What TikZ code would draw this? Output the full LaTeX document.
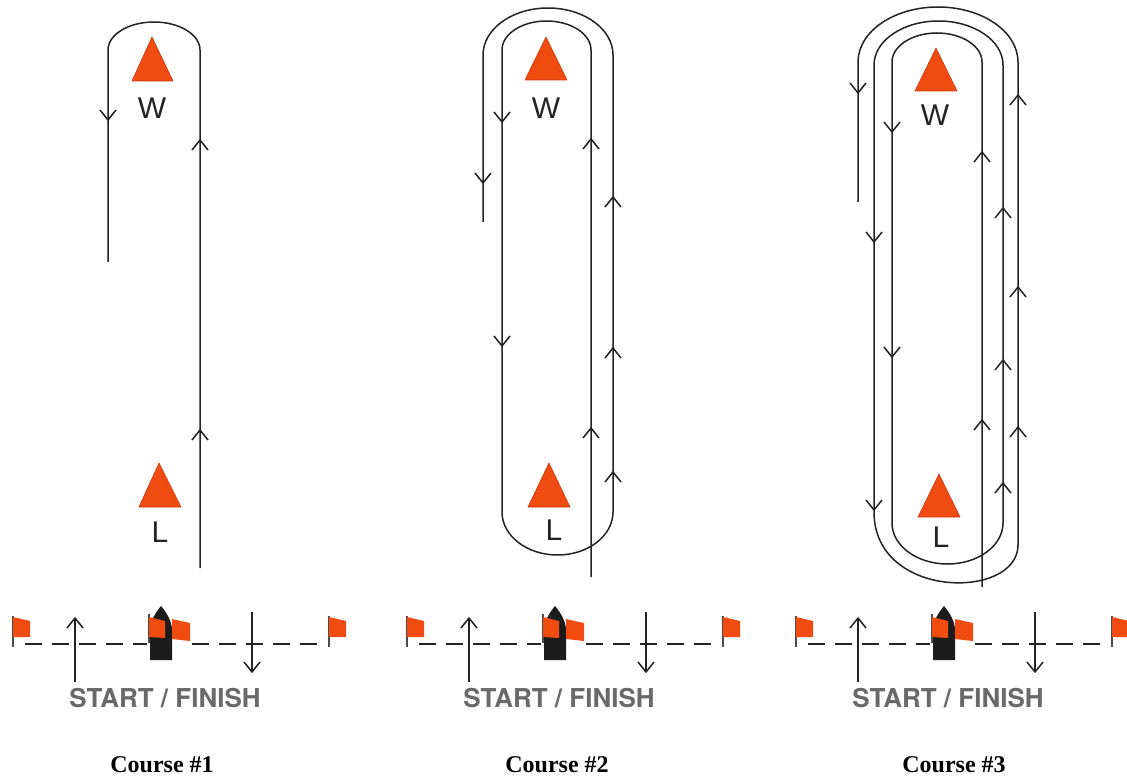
\documentclass[tikz,border=0pt]{standalone}
\usepackage{fontspec}
\setmainfont{Liberation Serif}
\newfontfamily\labfont{Liberation Sans}
\newfontfamily\sfheros{TeX Gyre Heros}
\definecolor{mk}{RGB}{240,76,18}
\definecolor{mkd}{RGB}{200,55,15}
\definecolor{ink}{RGB}{35,35,35}
\definecolor{sfgray}{RGB}{105,105,105}
\definecolor{hull}{RGB}{28,28,28}
\tikzset{
  ln/.style={line width=1.5pt, draw=ink, line join=round},
  buoy/.style={fill=mk, draw=mkd, line width=0.6pt, line join=round},
  flag/.style={fill=mk},
  pole/.style={line width=1.7pt, draw=black!70},
  dashline/.style={line width=1.4pt, draw=ink, dash pattern=on 17pt off 10pt},
  boat/.style={fill=hull},
  buoylabel/.style={font=\labfont\fontsize{30}{36}\selectfont, text=ink, inner sep=0pt},
  sflabel/.style={font=\sfheros\bfseries\fontsize{26}{30}\selectfont, text=sfgray, inner sep=0pt},
  coursetitle/.style={font=\bfseries\fontsize{24}{28}\selectfont, inner sep=0pt, anchor=base}
}
\newcommand\upar[2]{\draw[ln] (#1,#2) ++(-8,10) -- ++(8,-10) -- ++(8,10);}
\newcommand\dnar[2]{\draw[ln] (#1,#2) ++(-8,-10) -- ++(8,10) -- ++(8,-10);}
\newcommand\startfinish[2]{%
\begin{scope}[xshift=#1pt]
  \draw[dashline] (25,644) -- (147,644);
  \draw[dashline] (192,644) -- (322,644);
  \draw[pole] (13,616) -- (13,647);
  \fill[flag] (13,617) -- (30,621) -- (30,637) -- (13,637) -- cycle;
  \draw[pole] (329,616) -- (329,647);
  \fill[flag] (329,617) -- (346,621) -- (346,637) -- (329,637) -- cycle;
  \draw[ln] (75,682) -- (75,618);
  \upar{75}{618}
  \draw[ln] (252,612) -- (252,672);
  \dnar{252}{672}
  \fill[boat] (161,606) .. controls (167,613) and (172,622) .. (172,630) -- (172,660) -- (150,660) -- (150,630) .. controls (150,622) and (155,613) .. (161,606) -- cycle;
  \draw[pole] (149,614) -- (149,643);
  \fill[flag] (149,617) -- (165,621) -- (165,638) -- (149,637) -- cycle;
  \fill[flag] (172,619) -- (190,623) -- (190,641) -- (172,639) -- cycle;
  \node[sflabel] (#2) at (165,698) {START / FINISH};
\end{scope}}
\begin{document}
\begin{tikzpicture}[x=1pt,y=-1pt]
\useasboundingbox (0,0) rectangle (1127,778);
\fill[white] (0,0) rectangle (1127,778);

% ---------- Course 1 ----------
\draw[ln] (200,568) -- (200,50) arc[start angle=0,end angle=-180,x radius=46,y radius=28] -- (108,262);
\dnar{108}{120}
\upar{200}{140}
\upar{200}{430}
\filldraw[buoy] (152,37) -- (173,81) -- (132,81) -- cycle;
\node[buoylabel] (w1) at (152,108) {W};
\filldraw[buoy] (159,463) -- (181,507) -- (139,507) -- cycle;
\node[buoylabel] (l1) at (160,532) {L};
\startfinish{0}{sf1}
\node[coursetitle] (c1) at (162,772) {Course \#1};

% ---------- Course 2 ----------
\draw[ln] (591,577) -- (591,50) arc[start angle=0,end angle=-180,x radius=44.5,y radius=29]
  -- (502,512) arc[start angle=180,end angle=0,x radius=55.5,y radius=43]
  -- (613,55) arc[start angle=0,end angle=-180,x radius=65,y radius=47] -- (483,222);
\dnar{483}{183}
\dnar{502}{122}
\dnar{502}{346}
\upar{591}{139}
\upar{591}{428}
\upar{613}{197}
\upar{613}{348}
\upar{613}{472}
\filldraw[buoy] (546,37) -- (567,80) -- (525,80) -- cycle;
\node[buoylabel] (w2) at (546,108) {W};
\filldraw[buoy] (549,463) -- (570,507) -- (528,507) -- cycle;
\node[buoylabel] (l2) at (554,530) {L};
\startfinish{394}{sf2}
\node[coursetitle] (c2) at (557,772) {Course \#2};

% ---------- Course 3 ----------
\draw[ln] (982,587) -- (982,62) arc[start angle=0,end angle=-180,x radius=45,y radius=29]
  -- (892,523) arc[start angle=180,end angle=0,x radius=55.5,y radius=41]
  -- (1003,65) arc[start angle=0,end angle=-180,x radius=64.5,y radius=44]
  -- (874,512) .. controls (874,600) and (1018,600) .. (1018,545)
  -- (1018,62) arc[start angle=0,end angle=-180,x radius=80,y radius=55] -- (858,202);
\dnar{858}{93}
\dnar{874}{242}
\dnar{874}{510}
\dnar{892}{132}
\dnar{892}{357}
\upar{982}{152}
\upar{982}{420}
\upar{1003}{208}
\upar{1003}{360}
\upar{1003}{483}
\upar{1018}{95}
\upar{1018}{287}
\upar{1018}{427}
\filldraw[buoy] (936,48) -- (957,91) -- (915,91) -- cycle;
\node[buoylabel] (w3) at (935,115) {W};
\filldraw[buoy] (939,474) -- (960,517) -- (918,517) -- cycle;
\node[buoylabel] (l3) at (941,537) {L};
\startfinish{783}{sf3}
\node[coursetitle] (c3) at (954,772) {Course \#3};
\end{tikzpicture}
\end{document}
